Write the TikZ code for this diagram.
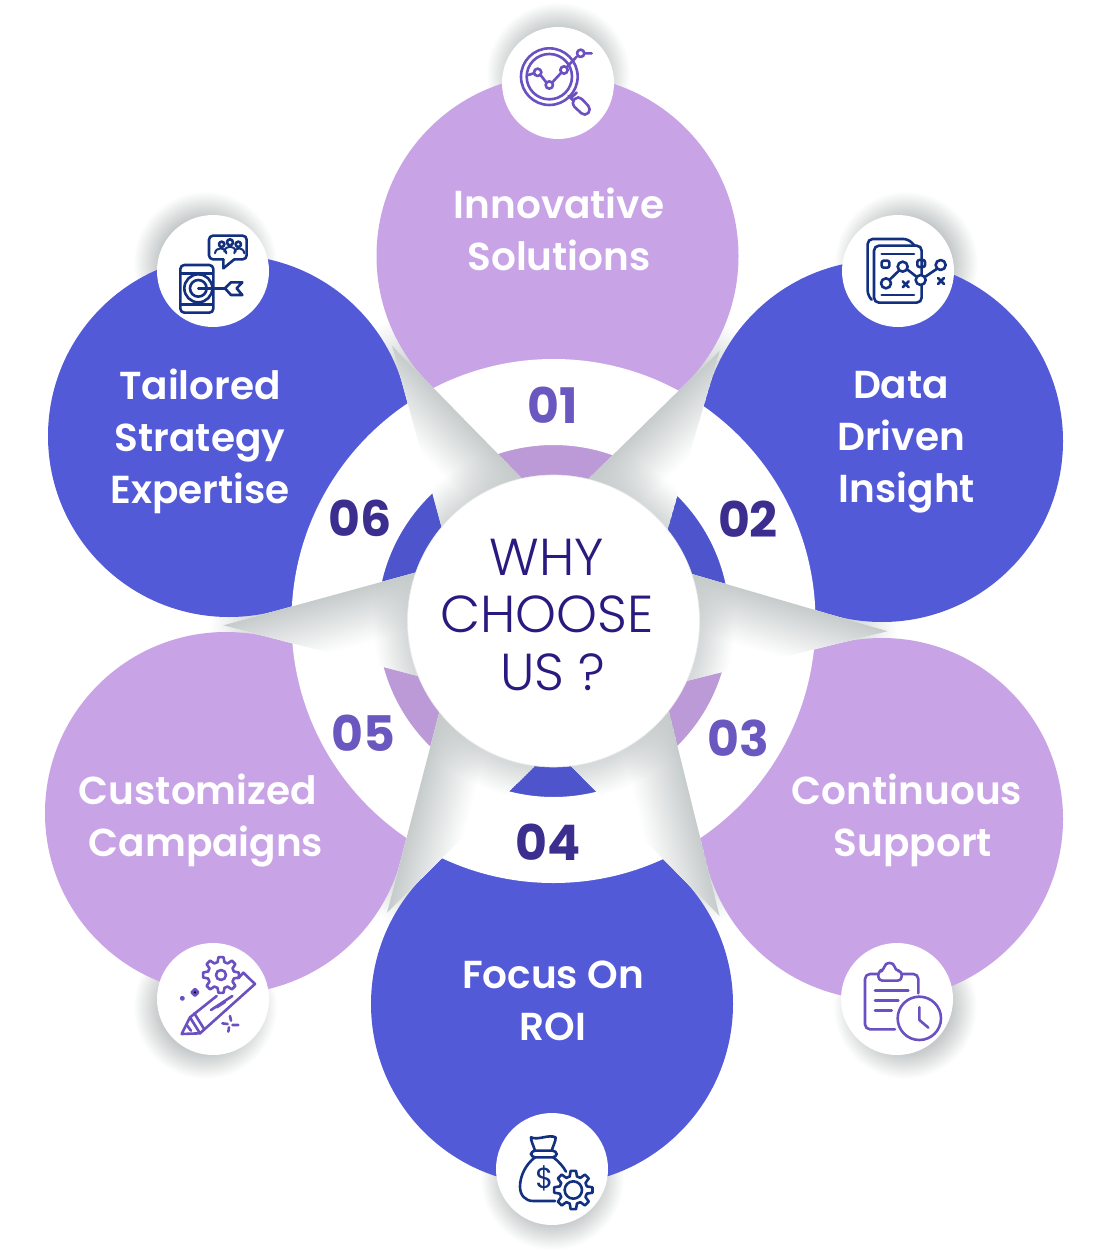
\documentclass[tikz,border=0pt]{standalone}
\usepackage{fontspec}
\setmainfont{Poppins}
\newfontfamily\labelfont{Poppins SemiBold}
\newfontfamily\hubfont{Poppins Light}
\usetikzlibrary{calc,fadings}
\definecolor{petalblue}{HTML}{535AD8}
\definecolor{petalpurple}{HTML}{C8A4E6}
\definecolor{spikegray}{HTML}{C6CBCB}
\definecolor{gapgray}{HTML}{CBCFCF}
\definecolor{haloray}{HTML}{C6CACA}
\definecolor{hubink}{HTML}{2A1A80}
\definecolor{numdark}{HTML}{3B2E8F}
\definecolor{numlight}{HTML}{6A57BF}
\definecolor{iconviolet}{HTML}{6A50C0}
\definecolor{iconnavy}{HTML}{12307F}
\pgfdeclareradialshading{gapfade}{\pgfpoint{0bp}{0bp}}{color(0bp)=(gapgray); color(18bp)=(gapgray); color(21.5bp)=(white); color(50bp)=(white)}
\pgfdeclareradialshading{halofade}{\pgfpoint{0bp}{0bp}}{color(0bp)=(haloray); color(16bp)=(haloray); color(25bp)=(white); color(50bp)=(white)}
\pgfdeclareradialshading{diskmask}{\pgfpoint{0bp}{0bp}}{color(0bp)=(white); color(18.5bp)=(white); color(22.5bp)=(black); color(50bp)=(black)}
\pgfdeclarefading{diskfade}{\pgfuseshading{diskmask}}
\newcommand{\petal}[2]{
  \coordinate (#1a) at ($(#1)!181pt!45:(hub)$);
  \coordinate (#1b) at ($(#1)!181pt!-45:(hub)$);
  \coordinate (#1t) at ($(#1)!256pt!(hub)$);
  \fill[#2] (#1) circle (181);
  \fill[#2] (#1a) -- (#1t) -- (#1b) -- (#1) -- cycle;
}
\newcommand{\spike}[5]{
  \pgfmathanglebetweenpoints{\pgfpointanchor{#1}{center}}{\pgfpointanchor{#2}{center}}
  \let\spikeangle\pgfmathresult
  \begin{scope}
    \clip (#1) -- (#2) -- (#3) -- cycle;
    \fill[white] (#1) -- (#2) -- (#3) -- cycle;
    \begin{scope}[transform canvas={shift={(#1)},rotate=\spikeangle}]
      \shade[#5] (-50,0) rectangle (450,#4);
    \end{scope}
    \fill[spikegray,path fading=diskfade,opacity=.7] (hub) circle (200);
  \end{scope}
}
\tikzset{
  spikeright/.style={top color=spikegray,bottom color=white},
  spikeleft/.style={bottom color=spikegray,top color=white},
  iconviolet/.style={draw=iconviolet,line width=2.6pt,line cap=round,line join=round},
  iconnavy/.style={draw=iconnavy,line width=2.6pt,line cap=round,line join=round},
  icondisk/.style={fill=white},
  halo/.style={shading=halofade},
  title/.style={text=white,font=\labelfont\fontsize{39}{52}\selectfont,align=center},
  numdark/.style={text=numdark,font=\bfseries\fontsize{49}{52}\selectfont},
  numlight/.style={text=numlight,font=\bfseries\fontsize{49}{52}\selectfont}
}
\begin{document}
\begin{tikzpicture}[x=1pt,y=-1pt]
  \useasboundingbox (0,0) rectangle (1113,1252);
  \fill[white] (0,0) rectangle (1113,1252);
  \coordinate (hub) at (553.5,621);
  \coordinate (petal1) at (557.5,256);
  \coordinate (petal2) at (882,441);
  \coordinate (petal3) at (882,819);
  \coordinate (petal4) at (552,1004);
  \coordinate (petal5) at (226,813);
  \coordinate (petal6) at (229,436);
  \shade[shading=gapfade] (hub) circle (400);
  \shade[halo] (558,74) circle (72);
  \shade[halo] (906,263) circle (72);
  \shade[halo] (905,1007) circle (72);
  \shade[halo] (552,1178) circle (72);
  \shade[halo] (205,1007) circle (72);
  \shade[halo] (205,263) circle (72);
  \petal{petal1}{petalpurple}
  \petal{petal2}{petalblue}
  \petal{petal3}{petalpurple}
  \petal{petal4}{petalblue}
  \petal{petal5}{petalpurple}
  \petal{petal6}{petalblue}
  \fill[black,opacity=.06] (hub) circle (176);
  \fill[white,even odd rule] (hub) circle (262) (hub) circle (176);
  \coordinate (gap12) at (intersection of petal1a--petal1t and petal2b--petal2t);
  \coordinate (gap23) at (intersection of petal2a--petal2t and petal3b--petal3t);
  \coordinate (gap34) at (intersection of petal3a--petal3t and petal4b--petal4t);
  \coordinate (gap45) at (intersection of petal4a--petal4t and petal5b--petal5t);
  \coordinate (gap56) at (intersection of petal5a--petal5t and petal6b--petal6t);
  \coordinate (gap61) at (intersection of petal6a--petal6t and petal1b--petal1t);
  \spike{gap12}{petal1t}{petal2t}{-55}{spikeleft}
  \spike{gap23}{petal2t}{petal3t}{-55}{spikeleft}
  \spike{gap34}{petal3t}{petal4t}{-55}{spikeleft}
  \spike{gap45}{petal5t}{petal4t}{55}{spikeright}
  \spike{gap56}{petal6t}{petal5t}{55}{spikeright}
  \spike{gap61}{petal1t}{petal6t}{55}{spikeright}
  \node[circle,fill=white,draw=black!8,line width=.6pt,minimum size=292pt,inner sep=0pt] (centre) at (hub) {};
  \node[text=hubink,font=\hubfont\fontsize{52}{57.5}\selectfont,align=center] (why) at (547,615) {WHY\\CHOOSE\\\hspace*{12pt}US ?};
  \node[title] (innovative) at (559,229) {Innovative\\Solutions};
  \node[title] (data) at (901,442) {Data\\Driven\\\hspace*{12pt}Insight};
  \node[title] (tailored) at (200,441) {Tailored\\Strategy\\Expertise};
  \node[title] (customized) at (201,821) {\hspace*{-6pt}Customized\\\hspace*{10pt}Campaigns};
  \node[title] (continuous) at (907,820) {Continuous\\\hspace*{12pt}Support};
  \node[title] (focus) at (553,1001) {Focus On\\ROI};
  \node[numlight] (no1) at (553,405) {01};
  \node[numdark] (no2) at (748,519) {02};
  \node[numlight] (no3) at (738,738) {03};
  \node[numdark] (no4) at (548,842) {04};
  \node[numlight] (no5) at (363,733) {05};
  \node[numdark] (no6) at (360,518) {06};
  \node[circle,icondisk,minimum size=112pt,inner sep=0pt] (icon1) at (558,83) {};
  \node[circle,icondisk,minimum size=112pt,inner sep=0pt] (icon2) at (898,271) {};
  \node[circle,icondisk,minimum size=112pt,inner sep=0pt] (icon3) at (897,999) {};
  \node[circle,icondisk,minimum size=112pt,inner sep=0pt] (icon4) at (552,1169) {};
  \node[circle,icondisk,minimum size=112pt,inner sep=0pt] (icon5) at (213,999) {};
  \node[circle,icondisk,minimum size=112pt,inner sep=0pt] (icon6) at (213,271) {};
  \begin{scope}[shift={(490,10)},x=.3333pt,y=-.3333pt]
    \draw[iconviolet] (178,200) circle (85) (178,200) circle (68);
    \draw[iconviolet] (115,195) -- (131,190) (153,197) -- (168,216) (188,216) -- (212,190) (232,170) -- (260,140) (284,130) -- (305,130);
    \draw[iconviolet] (143,187) circle (11) (178,225) circle (11) (222,180) circle (11) (272,130) circle (11);
    \draw[iconviolet] (236,258) -- (250,272) (260,248) -- (245,262);
    \draw[iconviolet,rounded corners=5pt] (242,280) -- (265,256) -- (305,298) -- (285,320) -- cycle;
  \end{scope}
  \begin{scope}[shift={(830,205)},x=.3333pt,y=-.3333pt]
    \draw[iconnavy,rounded corners=5pt] (125,284) -- (113,272) -- (113,102) -- (235,102) -- (254,122);
    \draw[iconnavy,rounded corners=5pt] (132,122) rectangle (275,293);
    \draw[iconnavy] (155,147) -- (252,147) (155,270) -- (252,270);
    \draw[iconnavy,rounded corners=2pt] (155,167) rectangle (178,188) (262,165) rectangle (285,186);
    \draw[iconnavy] (180,223) -- (207,197) (231,193) -- (258,214) (286,215) -- (320,192);
    \draw[iconnavy,fill=white] (168,235) circle (15) (218,185) circle (15) (272,225) circle (15) (332,180) circle (15);
    \draw[iconnavy] (218,229) -- (236,247) (236,229) -- (218,247) (324,219) -- (342,237) (342,219) -- (324,237);
  \end{scope}
  \begin{scope}[shift={(145,205)},x=.3333pt,y=-.3333pt]
    \draw[iconnavy,rounded corners=4pt] (106,180) rectangle (205,323);
    \draw[iconnavy] (108,205) -- (203,205) (108,298) -- (203,298);
    \draw[iconnavy] (160,250) circle (42) (160,250) circle (25);
    \draw[iconnavy] (160,250) -- (240,250);
    \draw[iconnavy] (240,250) -- (258,232) -- (292,232) -- (275,250) -- (292,270) -- (258,270) -- cycle;
    \draw[iconnavy,rounded corners=4pt] (235,163) -- (192,163) -- (192,92) -- (305,92) -- (305,163) -- (268,163);
    \draw[iconnavy] (268,163) -- (235,190) -- (235,163);
    \draw[iconnavy] (230,118) circle (8) (255,112) circle (9) (280,118) circle (8);
    \draw[iconnavy,line width=2pt] (210,145) .. controls (212,125) and (242,125) .. (244,145) (238,140) .. controls (240,120) and (270,120) .. (272,140) (268,145) .. controls (268,125) and (296,125) .. (298,145);
  \end{scope}
  \begin{scope}[shift={(830,930)},x=.3333pt,y=-.3333pt]
    \draw[iconviolet,rounded corners=5pt] (195,298) -- (105,298) -- (105,132) -- (145,132);
    \draw[iconviolet,rounded corners=5pt] (215,132) -- (265,132) -- (265,190);
    \draw[iconviolet,rounded corners=4pt] (145,152) -- (145,122) -- (162,122) .. controls (165,95) and (192,95) .. (195,122) -- (215,122) -- (215,152) -- cycle;
    \draw[iconviolet] (135,182) -- (235,182) (135,212) -- (205,212) (135,242) -- (185,242);
    \draw[iconviolet] (268,265) circle (65);
    \draw[iconviolet] (268,232) -- (268,270) -- (295,293);
  \end{scope}
  \begin{scope}[shift={(145,930)},x=.3333pt,y=-.3333pt]
    \draw[iconviolet] (215,198) -- (135,262) -- (110,312) -- (165,310) -- (330,162) -- (295,128) -- (280,145);
    \draw[iconviolet] (135,262) -- (165,310) (148,250) -- (178,298) (125,285) -- (138,302);
    \draw[iconviolet] (198,240) -- (262,198) (215,232) -- (240,216);
    \begin{scope}[shift={(228,135)}]
      \draw[iconviolet,fill=white] (-15:40) \foreach \a in {0,45,...,315} { -- (\a-8:54) -- (\a+8:54) -- (\a+15:40) -- (\a+30:40)} -- cycle;
      \draw[iconviolet] (0,0) circle (15);
    \end{scope}
    \fill[iconviolet] (150,177) -- (160,187) -- (150,197) -- (140,187) -- cycle (112,205) circle (4);
    \draw[iconviolet] (255,258) -- (258,272) (232,280) -- (248,282) (262,285) -- (280,285) (252,292) -- (250,305);
  \end{scope}
  \begin{scope}[shift={(485,1100)},x=.3333pt,y=-.3333pt]
    \draw[iconnavy] (150,152) .. controls (145,135) and (138,125) .. (138,112) .. controls (160,122) and (190,102) .. (212,112) .. controls (212,125) and (205,135) .. (200,152);
    \draw[iconnavy,rounded corners=4pt] (138,152) rectangle (215,172);
    \draw[iconnavy] (150,172) .. controls (120,195) and (105,230) .. (105,260) .. controls (105,285) and (120,303) .. (145,303) -- (210,303);
    \draw[iconnavy] (205,172) .. controls (222,185) and (235,200) .. (243,215);
    \node[text=iconnavy,font=\fontsize{29}{30}\selectfont] (dollar) at (178,235) {\$};
    \begin{scope}[shift={(265,270)}]
      \draw[iconnavy,fill=white] (-15:42) \foreach \a in {0,45,...,315} { -- (\a-8:58) -- (\a+8:58) -- (\a+15:42) -- (\a+30:42)} -- cycle;
      \draw[iconnavy] (0,0) circle (26);
    \end{scope}
  \end{scope}
\end{tikzpicture}
\end{document}
